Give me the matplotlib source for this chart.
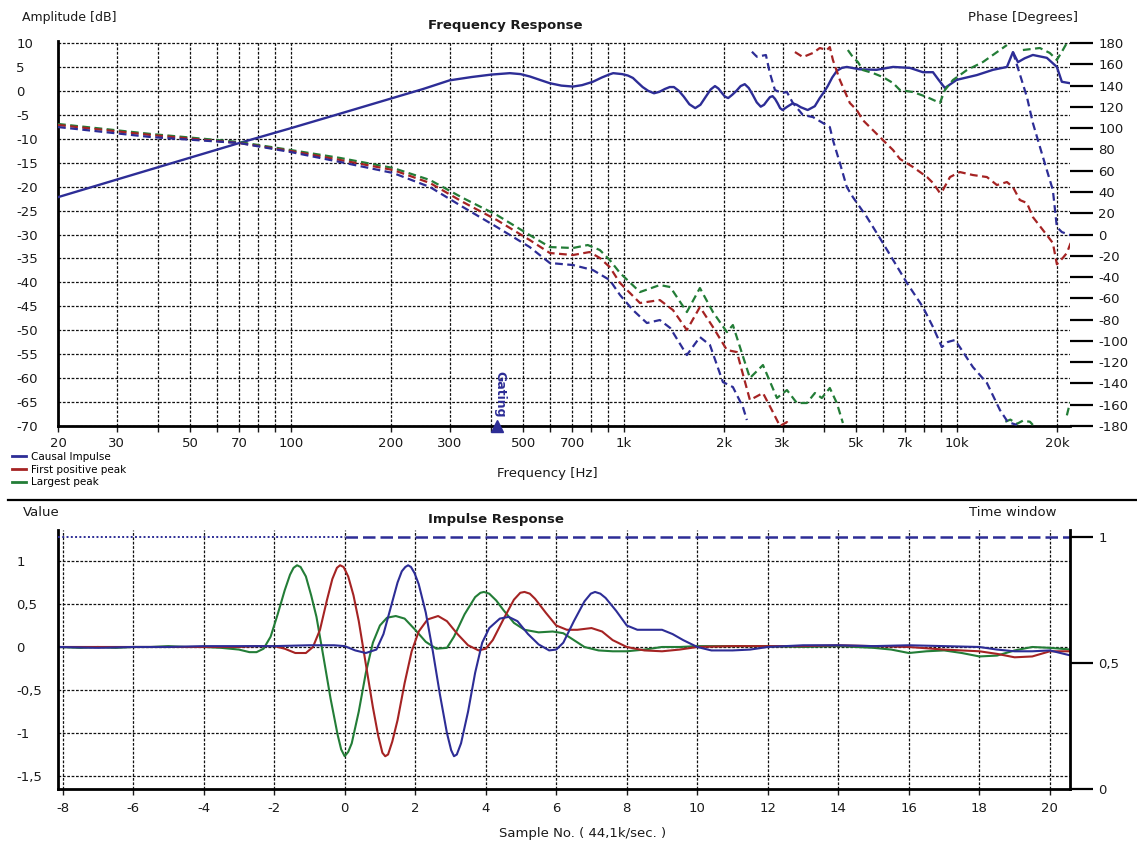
import numpy as np
import matplotlib
matplotlib.use("Agg")
import matplotlib.pyplot as plt
from matplotlib.lines import Line2D
from matplotlib.ticker import NullLocator

nan = np.nan

# ---------------- Frequency response data ----------------
mag_freq = [20, 38, 70, 100, 140, 200, 250, 300, 350, 400, 455, 490, 523, 560, 600, 650, 704, 750,
            808, 860, 903, 930, 990, 1030, 1066, 1100, 1140, 1185, 1233, 1280, 1330, 1375, 1415,
            1465, 1515, 1575, 1640, 1700, 1765, 1825, 1880, 1925, 1970, 2015, 2060, 2120, 2180,
            2245, 2310, 2375, 2440, 2510, 2580, 2640, 2700, 2750, 2800, 2850, 2900, 2950, 3000,
            3100, 3220, 3310, 3400, 3570, 3750, 3880, 4000, 4100, 4230, 4370, 4520, 4680, 5120,
            5750, 6440, 7240, 7920, 8490, 8850, 9220, 10000, 11500, 12860, 14160, 14760, 15280,
            16000, 16940, 18660, 20000, 20700, 21900]
mag_db = [-22.2, -16.4, -10.9, -7.8, -4.8, -1.6, 0.4, 2.2, 2.9, 3.4, 3.7, 3.5, 3.0, 2.3, 1.6, 1.1, 0.9, 1.2,
          1.9, 2.8, 3.4, 3.7, 3.5, 3.2, 2.7, 1.8, 0.8, 0.0, -0.5, -0.2, 0.4, 0.8, 0.8,
          0.0, -1.2, -2.8, -3.6, -2.9, -1.2, 0.3, 1.0, 0.5, -0.4, -1.2, -1.5, -0.8, 0.0,
          1.0, 1.4, 0.6, -0.8, -2.4, -3.3, -2.9, -2.0, -1.3, -1.1, -1.7, -2.6, -3.6, -4.0,
          -3.3, -2.6, -2.9, -3.4, -4.0, -3.2, -1.5, -0.2, 1.0, 2.8, 4.2, 4.8, 5.0, 4.5,
          4.4, 5.0, 4.8, 3.9, 3.9, 2.2, 0.6, 2.3, 3.3, 4.4, 5.0, 8.1, 6.0,
          6.8, 7.5, 6.9, 5.0, 1.9, 1.6]

# phase (degrees, wrapped at +-180; nan marks a wrap)
blue_ph_freq = [20, 38, 70, 100, 141, 203, 262, 329, 416, 522, 600, 704, 808, 908, 975, 1066, 1174,
                1284, 1380, 1548, 1694, 1816, 1986, 2128, 2281, 2344, nan,
                2427, 2512, 2674, 2748, 2846, 2986, 3092, 3222, 3454, 3700, 3966, 4160, 4250, 4460,
                4678, 4878, 5374, 6004, 7092, 7920, 8492, 9030, 9410, 9880, 10220, 11190, 12330,
                13490, 14250, 15170, nan,
                14760, 16260, 16940, 18160, 19450, 20000, 20700, 21900]
blue_ph = [101.0, 91.6, 86.0, 77.5, 68.1, 57.8, 44.6, 25.8, 7.0, -11.8, -26.8, -28.7, -33.4, -42.8,
           -56.9, -71.0, -83.2, -80.4, -87.9, -113.3, -96.4, -103.9, -138.7, -143.4, -162.2, -174.4, nan,
           171.8, 167.1, 168.7, 151.8, 135.8, 133.0, 133.9, 123.6, 112.3, 110.4, 104.8, 101.0, 88.8, 67.2,
           44.6, 35.2, 16.4, -8.0, -45.6, -68.2, -87.0, -105.8, -101.0, -99.2, -105.8, -124.6, -139.6,
           -165.0, -176.3, -179.0, nan,
           171.5, 129.2, 104.8, 72.8, 41.8, 7.0, 2.3, -0.5]

red_ph_freq = [20, 38, 70, 100, 141, 203, 262, 329, 416, 522, 600, 704, 790, 848, 908, 975, 1119,
               1284, 1406, 1548, 1694, 1854, 2042, 2188, 2394, 2620, 2806, 2946, 3092, 3156, nan,
               3268, 3454, 3700, 3882, 4076, 4160, 4250, 4460, 4778, 5012, 5224, 5600, 6004, 6440,
               6756, 7396, 8148, 8492, 8908, 9094, 9550, 10220, 11190, 12330, 13210, 14160, 14760,
               15480, 16260, 16940, 18160, 19450, 20000, 20840, 21430, 22000]
red_ph = [102.9, 93.5, 86.0, 78.5, 70.0, 60.6, 48.4, 30.5, 13.6, -5.2, -17.4, -19.3, -16.5, -22.1,
          -30.6, -45.6, -64.4, -61.6, -71.0, -89.8, -68.2, -87.0, -108.6, -110.5, -155.6, -149.0,
          -166.9, -180.0, -176.3, -180.0, nan,
          171.5, 166.8, 170.6, 175.3, 173.4, 176.2, 164.0, 145.2, 123.6, 117.0, 107.6, 98.2, 88.8, 79.4,
          71.0, 63.4, 54.0, 48.4, 39.0, 41.8, 54.0, 58.7, 55.9, 54.0, 46.5, 49.3, 44.6,
          32.4, 29.6, 16.4, 4.2, -8.0, -28.0, -22.0, -17.4, -8.0]

green_ph_freq = [20, 38, 70, 100, 141, 203, 262, 329, 416, 522, 600, 704, 780, 848, 908, 975, 1119,
                 1284, 1380, 1548, 1694, 1854, 2042, 2128, 2394, 2620, 2886, 3092, 3312, 3550, 3752,
                 3936, 4160, 4366, 4554, nan,
                 4712, 4878, 5052, 5224, 5600, 6004, 6440, 6756, 7396, 8148, 8908, 9220, 9746, 10740,
                 11990, 13490, 14160, nan,
                 14000, 14500, 15170, 15810, 16600, 16940, nan,
                 15810, 17780, 19050, 20000, 20840, 21430, nan,
                 21430, 21900]
green_ph = [103.9, 94.5, 86.9, 79.4, 71.9, 62.5, 51.2, 34.3, 18.3, -0.5, -11.8, -12.7, -9.9, -14.6,
            -24.0, -36.2, -54.1, -47.5, -49.4, -72.9, -50.3, -72.9, -91.7, -85.1, -134.9, -122.7,
            -153.7, -146.2, -158.4, -158.4, -149.0, -153.7, -144.3, -158.4, -177.2, nan,
            173.4, 166.8, 162.1, 154.6, 151.8, 148.0, 142.4, 135.8, 133.9, 129.2, 123.6, 135.8, 145.2,
            154.6, 162.1, 173.4, 178.1, nan,
            -176.0, -174.0, -178.0, -175.0, -176.0, -179.0, nan,
            173.4, 175.3, 170.6, 164.0, 173.4, 180.0, nan,
            -170.0, -158.0]

gating_hz = 416

freq_ticks = [20, 30, 40, 50, 60, 70, 80, 90, 100, 200, 300, 400, 500, 600, 700, 800, 900,
              1000, 2000, 3000, 4000, 5000, 6000, 7000, 8000, 9000, 10000, 20000]
freq_tick_labels = ['20', '30', '', '50', '', '70', '', '', '100', '200', '300', '', '500', '', '700',
                    '', '', '1k', '2k', '3k', '', '5k', '', '7k', '', '', '10k', '20k']
db_ticks = list(range(-70, 11, 5))
phase_ticks = list(range(-180, 181, 20))

# ---------------- Impulse response data ----------------
green_imp_x = [-8.1, -7.5, -7.0, -6.5, -6.0, -5.5, -5.0, -4.5, -4.0, -3.5, -3.0, -2.7, -2.5, -2.3, -2.1,
               -1.9, -1.7, -1.55, -1.45, -1.35, -1.25, -1.1, -0.95, -0.8, -0.6, -0.4, -0.2, -0.1, 0.0,
               0.1, 0.2, 0.4, 0.6, 0.8, 1.0, 1.2, 1.45, 1.7, 2.0, 2.3, 2.6, 2.9, 3.1, 3.4, 3.7, 3.85,
               3.95, 4.1, 4.3, 4.5, 4.8, 5.1, 5.5, 5.9, 6.2, 6.5, 6.8, 7.2, 7.6, 8.0, 8.5, 9.0, 9.5,
               10.0, 11.0, 12.0, 13.0, 14.0, 15.0, 15.5, 16.0, 16.5, 17.0, 17.5, 18.0, 18.5, 19.0, 19.5,
               20.0, 20.6]
green_imp = [0.0, -0.01, 0.0, -0.01, 0.0, 0.0, 0.01, 0.0, 0.0, -0.01, -0.03, -0.06, -0.06, -0.02, 0.12,
             0.38, 0.66, 0.84, 0.92, 0.95, 0.93, 0.82, 0.6, 0.35, -0.12, -0.6, -1.02, -1.19, -1.27,
             -1.22, -1.12, -0.75, -0.3, 0.05, 0.25, 0.34, 0.36, 0.33, 0.2, 0.06, -0.02, -0.01, 0.12,
             0.38, 0.58, 0.63, 0.64, 0.62, 0.54, 0.43, 0.28, 0.2, 0.17, 0.18, 0.16, 0.08, 0.0, -0.04,
             -0.05, -0.05, -0.03, 0.0, 0.0, 0.01, 0.01, 0.01, 0.0, 0.01, -0.01, -0.03, -0.07, -0.05,
             -0.04, -0.07, -0.11, -0.1, -0.04, 0.0, -0.01, -0.03]

red_imp_x = [-8.1, -7.0, -6.0, -5.0, -4.0, -3.0, -2.5, -2.0, -1.7, -1.4, -1.1, -0.9, -0.7, -0.5, -0.35,
             -0.22, -0.13, -0.03, 0.1, 0.25, 0.4, 0.6, 0.8, 0.95, 1.07, 1.15, 1.23, 1.35, 1.5, 1.7, 1.9,
             2.1, 2.35, 2.65, 2.9, 3.2, 3.5, 3.8, 4.0, 4.2, 4.5, 4.8, 4.98, 5.1, 5.25, 5.4, 5.7, 6.0,
             6.3, 6.6, 7.0, 7.3, 7.6, 8.0, 8.5, 9.0, 9.5, 10.0, 11.0, 12.0, 13.0, 14.0, 15.0, 16.0,
             17.0, 18.0, 18.5, 19.0, 19.5, 20.0, 20.6]
red_imp = [0.0, 0.0, 0.0, 0.0, 0.0, 0.0, 0.01, 0.01, -0.02, -0.07, -0.07, 0.0, 0.2, 0.55, 0.79,
           0.92, 0.95, 0.93, 0.82, 0.6, 0.3, -0.2, -0.7, -1.03, -1.23, -1.27, -1.25, -1.1, -0.85, -0.42,
           -0.05, 0.18, 0.32, 0.36, 0.3, 0.15, 0.02, -0.04, -0.02, 0.08, 0.32, 0.55, 0.63, 0.64, 0.62,
           0.56, 0.4, 0.25, 0.2, 0.2, 0.22, 0.18, 0.08, 0.0, -0.04, -0.05, -0.03, 0.0, 0.01, 0.01,
           0.01, 0.02, 0.01, 0.0, -0.03, -0.05, -0.08, -0.12, -0.11, -0.05, -0.05]

blue_imp_x = [-8.1, -7.0, -6.0, -5.0, -4.0, -3.0, -2.0, -1.0, -0.3, 0.0, 0.3, 0.6, 0.9, 1.1, 1.3, 1.5,
              1.62, 1.72, 1.8, 1.88, 1.98, 2.1, 2.3, 2.5, 2.7, 2.9, 3.02, 3.1, 3.18, 3.3, 3.5, 3.7,
              3.9, 4.1, 4.4, 4.65, 4.9, 5.2, 5.5, 5.8, 6.0, 6.2, 6.5, 6.8, 6.98, 7.1, 7.25, 7.4, 7.7,
              8.0, 8.3, 8.6, 9.0, 9.3, 9.6, 10.0, 10.4, 11.0, 11.5, 12.0, 13.0, 14.0, 15.0, 16.0,
              17.0, 18.0, 18.5, 19.0, 19.5, 20.0, 20.6]
blue_imp = [0.0, -0.01, 0.0, 0.0, 0.01, 0.01, 0.01, 0.02, 0.02, 0.01, -0.04, -0.07, -0.03, 0.15, 0.45,
            0.75, 0.88, 0.93, 0.95, 0.93, 0.86, 0.73, 0.4, -0.05, -0.55, -1.0, -1.2, -1.27, -1.25,
            -1.12, -0.75, -0.3, 0.05, 0.22, 0.33, 0.35, 0.3, 0.15, 0.03, -0.04, -0.03, 0.05, 0.3, 0.53,
            0.62, 0.64, 0.62, 0.57, 0.42, 0.25, 0.2, 0.2, 0.2, 0.15, 0.08, 0.0, -0.04, -0.04, -0.03,
            0.0, 0.02, 0.02, 0.01, 0.02, 0.01, 0.0, -0.03, -0.05, -0.05, -0.04, -0.1]

time_window_x = [-8.13, 0.0, 20.57]
time_window_val = [1.0, 1.0, 1.0]

imp_xticks = list(range(-8, 21, 2))
imp_yticks = [-1.5, -1.0, -0.5, 0.0, 0.5, 1.0]
imp_ytick_labels = ['-1,5', '-1', '-0,5', '0', '0,5', '1']
win_ticks = [0.0, 0.5, 1.0]
win_tick_labels = ['0', '0,5', '1']

# ---------------- styling ----------------
BLUE = '#2d2d96'
RED = '#a52323'
GREEN = '#237d37'
TXT = '#1a1a1a'
GRID_KW = dict(color='#111111', linewidth=0.9, linestyle=(0, (2.2, 1.3)))
DASH = (0, (3.5, 2.0))
plt.rcParams['font.family'] = ['DejaVu Sans']

W, H = 1137, 843
fig = plt.figure(figsize=(W / 100, H / 100), dpi=100)


def fx(p):
    return p / W


def fy(p):
    return 1 - p / H


L, R = 58, 1070

# ================= Frequency response =================
top_db = 10.5
ax1 = fig.add_axes([fx(L), fy(426), fx(R) - fx(L), fy(426 - 80.5 * 4.7875) - fy(426)])
ax1.set_xscale('log')
ax1.set_xlim(20, 21900)
ax1.set_ylim(-70, top_db)
ax1.set_xticks(freq_ticks, freq_tick_labels)
ax1.xaxis.set_minor_locator(NullLocator())
ax1.set_yticks(db_ticks, [str(v) for v in db_ticks])
ax1.grid(True, **GRID_KW)
ax1.set_axisbelow(True)
for s in ['top', 'right']:
    ax1.spines[s].set_visible(False)
for s in ['left', 'bottom']:
    ax1.spines[s].set_linewidth(2)
ax1.tick_params(axis='x', direction='out', length=4, width=1, labelsize=9.5, pad=4, colors=TXT)
ax1.tick_params(axis='y', length=0, labelsize=9.5, pad=30, colors=TXT)
for lab in ax1.get_yticklabels():
    lab.set_horizontalalignment('left')

ax1.plot(mag_freq, mag_db, color=BLUE, lw=1.7, zorder=3)

ax1b = ax1.twinx()
ax1b.set_ylim(-180, 180 + (top_db - 10) * 4.5)
ax1b.set_yticks(phase_ticks, [str(v) for v in phase_ticks])
for s in ax1b.spines.values():
    s.set_visible(False)
ax1b.tick_params(axis='y', direction='out', length=16.5, width=1.6, labelsize=9.5, pad=4, colors='black')
for lab in ax1b.get_yticklabels():
    lab.set_color(TXT)

ax1b.plot(green_ph_freq, green_ph, color=GREEN, lw=1.6, ls=DASH)
ax1b.plot(red_ph_freq, red_ph, color=RED, lw=1.6, ls=DASH)
ax1b.plot(blue_ph_freq, blue_ph, color=BLUE, lw=1.6, ls=DASH)

# gating marker
ax1.plot([gating_hz], [-70], marker='^', ms=9, color=BLUE, clip_on=False, zorder=6)
ax1.annotate('Gating', xy=(gating_hz, -70), xytext=(2.5, 6), textcoords='offset points',
             rotation=270, ha='center', va='bottom', color=BLUE, fontsize=9, fontweight='bold')

fig.text(fx(22), fy(17), 'Amplitude [dB]', ha='left', va='center', fontsize=9, color=TXT)
fig.text(fx(505), fy(26), 'Frequency Response', ha='center', va='center', fontsize=9.5,
         fontweight='bold', color=TXT)
fig.text(fx(968), fy(17), 'Phase [Degrees]', ha='left', va='center', fontsize=9.5, color=TXT)
fig.text(fx(547), fy(473), 'Frequency [Hz]', ha='center', va='center', fontsize=9.5, color=TXT)

handles = [Line2D([], [], color=BLUE, lw=2), Line2D([], [], color=RED, lw=2),
           Line2D([], [], color=GREEN, lw=2)]
fig.legend(handles, ['Causal Impulse', 'First positive peak', 'Largest peak'], loc='upper left',
           bbox_to_anchor=(fx(12), fy(452)), frameon=False, fontsize=7.5, handlelength=1.3,
           handletextpad=0.5, labelspacing=0.25, borderpad=0, borderaxespad=0)

# separator
fig.add_artist(Line2D([fx(8), 1.0], [fy(500), fy(500)], color='black', lw=1.6,
                      transform=fig.transFigure))

# ================= Impulse response =================
ax2 = fig.add_axes([fx(L), fy(789), fx(R) - fx(L), fy(530) - fy(789)])
ax2.set_xlim(-8.13, 20.57)
ax2.set_ylim(-1.651, 1.36)
ax2.set_xticks(imp_xticks, [str(v) for v in imp_xticks])
ax2.set_yticks(imp_yticks, imp_ytick_labels)
ax2.grid(True, **GRID_KW)
ax2.set_axisbelow(True)
for s in ['top', 'right']:
    ax2.spines[s].set_visible(False)
for s in ['left', 'bottom']:
    ax2.spines[s].set_linewidth(2)
ax2.tick_params(axis='x', direction='out', length=4, width=1, labelsize=9.5, pad=5, colors=TXT)
ax2.tick_params(axis='y', length=0, labelsize=9.5, pad=30, colors=TXT)
for lab in ax2.get_yticklabels():
    lab.set_horizontalalignment('left')

ax2.plot(green_imp_x, green_imp, color=GREEN, lw=1.5)
ax2.plot(red_imp_x, red_imp, color=RED, lw=1.5)
ax2.plot(blue_imp_x, blue_imp, color=BLUE, lw=1.5)

ax2b = ax2.twinx()
ax2b.set_ylim(0, (789 - 530) / 252)
ax2b.set_yticks(win_ticks, win_tick_labels)
for s in ['left', 'top', 'bottom']:
    ax2b.spines[s].set_visible(False)
ax2b.spines['right'].set_linewidth(2)
ax2b.tick_params(axis='y', direction='out', length=16.5, width=1.6, labelsize=9.5, pad=4)
for lab in ax2b.get_yticklabels():
    lab.set_color(TXT)
ax2b.plot(time_window_x[:2], time_window_val[:2], color=BLUE, lw=1.4, ls=(0, (1, 1.2)))
ax2b.plot(time_window_x[1:], time_window_val[1:], color=BLUE, lw=1.8, ls=(0, (5, 2)))

fig.text(fx(23), fy(512), 'Value', ha='left', va='center', fontsize=9.5, color=TXT)
fig.text(fx(496), fy(520), 'Impulse Response', ha='center', va='center', fontsize=9.5,
         fontweight='bold', color=TXT)
fig.text(fx(969), fy(512), 'Time window', ha='left', va='center', fontsize=9.5, color=TXT)
fig.text(fx(583), fy(833), 'Sample No. ( 44,1k/sec. )', ha='center', va='center', fontsize=9.5,
         color=TXT)

fig.savefig('out.png', dpi=100)
